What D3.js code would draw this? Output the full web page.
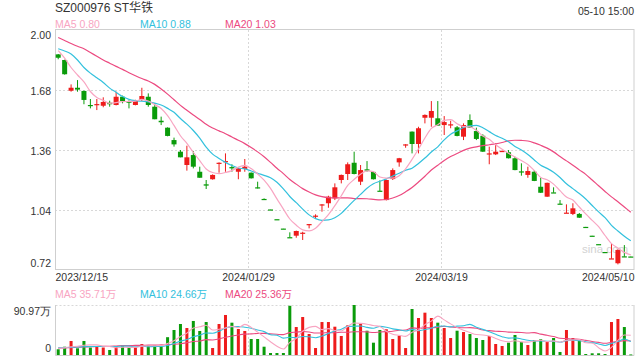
<!DOCTYPE html>
<html><head><meta charset="utf-8">
<script src="https://cdn.jsdelivr.net/npm/d3@7"></script>
<style>
html,body{margin:0;padding:0;background:#fff;}
svg{display:block;font-family:"Liberation Sans",Arial,"Noto Sans CJK SC",sans-serif;}
</style></head><body>
<svg id="c" width="640" height="360"></svg>
<script>
const title = "SZ000976 ST华铁";
const timeLabel = "05-10 15:00";
const xTickIndex = [0, 30, 60, 90];
const xTickLabels = ["2023/12/15", "2024/01/29", "2024/03/19", "2024/05/10"];
const priceTicks = [2.00, 1.68, 1.36, 1.04, 0.72];
const volTicks = [0, 90.97];
const volTickLabels = ["0", "90.97万"];
const priceLegend = ["MA5 0.80", "MA10 0.88", "MA20 1.03"];
const volLegend = ["MA5 35.71万", "MA10 24.66万", "MA20 25.36万"];

const open = [1.870,1.840,1.676,1.692,1.675,1.600,1.600,1.596,1.612,1.600,
1.644,1.621,1.600,1.627,1.644,1.591,1.516,1.479,1.413,1.351,
1.280,1.333,1.244,1.177,1.204,1.287,1.296,1.269,1.244,1.259,
1.239,1.161,1.099,1.043,0.991,0.941,0.895,0.903,0.914,0.963,
1.005,1.066,1.076,1.102,1.200,1.232,1.292,1.191,1.257,1.243,
1.143,1.093,1.205,1.294,1.386,1.458,1.392,1.532,1.532,1.529,
1.493,1.493,1.481,1.431,1.520,1.461,1.436,1.337,1.337,1.353,
1.348,1.316,1.246,1.227,1.244,1.164,1.111,1.134,1.074,1.024,
1.019,1.019,0.950,0.903,0.858,0.816,0.780,0.756,0.793,0.792];
const high = [1.872,1.842,1.710,1.733,1.677,1.632,1.632,1.641,1.623,1.671,
1.650,1.625,1.628,1.692,1.662,1.609,1.538,1.481,1.426,1.360,
1.383,1.355,1.271,1.200,1.230,1.294,1.342,1.284,1.264,1.312,
1.240,1.191,1.102,1.043,0.991,0.941,0.921,0.930,0.924,0.965,
1.017,1.071,1.116,1.182,1.229,1.294,1.351,1.280,1.301,1.245,
1.198,1.202,1.262,1.318,1.391,1.459,1.484,1.550,1.621,1.621,
1.541,1.516,1.488,1.502,1.550,1.479,1.444,1.378,1.396,1.358,
1.360,1.324,1.289,1.271,1.253,1.212,1.186,1.161,1.093,1.070,
1.076,1.024,0.950,0.903,0.858,0.816,0.862,0.830,0.853,0.792];
const low = [1.844,1.762,1.671,1.671,1.604,1.582,1.573,1.588,1.591,1.598,
1.609,1.582,1.598,1.621,1.591,1.524,1.493,1.433,1.378,1.321,
1.250,1.262,1.212,1.152,1.202,1.239,1.244,1.244,1.204,1.244,
1.208,1.155,1.097,1.042,0.990,0.940,0.893,0.892,0.880,0.942,
0.996,1.031,1.052,1.093,1.182,1.200,1.230,1.173,1.244,1.203,
1.141,1.091,1.200,1.271,1.372,1.342,1.342,1.502,1.484,1.488,
1.440,1.476,1.433,1.413,1.478,1.413,1.350,1.284,1.333,1.352,
1.315,1.252,1.223,1.212,1.194,1.131,1.110,1.132,1.072,1.024,
1.013,0.998,0.949,0.902,0.857,0.815,0.780,0.750,0.791,0.790];
const close = [1.852,1.764,1.692,1.682,1.627,1.595,1.605,1.616,1.604,1.644,
1.621,1.612,1.625,1.648,1.600,1.524,1.508,1.435,1.390,1.321,
1.321,1.271,1.212,1.170,1.227,1.292,1.301,1.262,1.262,1.271,
1.209,1.156,1.097,1.042,0.990,0.940,0.893,0.928,0.919,0.965,
1.010,1.070,1.111,1.161,1.227,1.284,1.232,1.253,1.250,1.204,
1.141,1.200,1.253,1.316,1.390,1.392,1.476,1.547,1.568,1.490,
1.509,1.497,1.435,1.493,1.479,1.419,1.351,1.342,1.351,1.355,
1.316,1.253,1.244,1.248,1.195,1.132,1.185,1.132,1.072,1.026,
1.049,0.999,0.949,0.902,0.857,0.815,0.782,0.827,0.791,0.791];
const volume = [10.4,15.1,25.5,12.2,25.5,13.6,15.1,13.6,9.1,15.1,
17.6,14.0,14.0,20.0,18.2,18.2,15.5,32.4,45.5,56.4,
49.1,61.9,43.7,60.0,12.7,56.4,72.8,58.8,47.3,43.7,
29.1,29.1,15.1,3.6,3.6,3.6,89.5,50.9,69.1,38.2,
12.7,60.0,60.0,51.5,34.6,54.0,90.97,56.4,44.2,22.4,
45.5,46.8,29.1,35.1,12.7,83.7,67.3,77.0,67.3,58.8,
49.1,30.9,44.2,41.8,38.2,30.9,27.3,34.6,20.0,16.4,
22.4,36.4,23.7,18.2,27.3,28.6,23.7,30.9,5.5,45.5,
30.9,27.3,1.8,3.1,3.1,1.8,60.0,65.5,50.9,1.0];
const ma5 = [1.890,1.850,1.800,1.760,1.723,1.672,1.640,1.625,1.609,1.613,
1.618,1.619,1.621,1.630,1.621,1.602,1.581,1.543,1.491,1.436,
1.395,1.348,1.303,1.259,1.240,1.234,1.240,1.250,1.269,1.278,
1.261,1.232,1.199,1.155,1.099,1.045,0.992,0.959,0.934,0.929,
0.943,0.978,1.015,1.063,1.116,1.171,1.203,1.231,1.249,1.245,
1.216,1.210,1.210,1.223,1.260,1.310,1.365,1.424,1.475,1.495,
1.518,1.522,1.500,1.485,1.483,1.465,1.435,1.417,1.388,1.364,
1.343,1.323,1.304,1.283,1.251,1.214,1.201,1.178,1.143,1.109,
1.093,1.056,1.019,0.985,0.951,0.904,0.861,0.837,0.814,0.801];
const ma10 = [1.900,1.888,1.872,1.840,1.800,1.770,1.745,1.720,1.690,1.668,
1.645,1.630,1.623,1.620,1.617,1.610,1.600,1.582,1.561,1.528,
1.498,1.464,1.423,1.375,1.338,1.315,1.294,1.277,1.264,1.259,
1.248,1.236,1.225,1.212,1.188,1.153,1.112,1.079,1.045,1.014,
0.994,0.985,0.987,0.999,1.022,1.057,1.091,1.123,1.156,1.180,
1.193,1.206,1.221,1.236,1.252,1.263,1.288,1.317,1.349,1.377,
1.414,1.444,1.462,1.480,1.489,1.491,1.479,1.458,1.437,1.423,
1.404,1.379,1.360,1.336,1.307,1.279,1.262,1.241,1.213,1.180,
1.154,1.128,1.099,1.064,1.030,0.999,0.958,0.928,0.900,0.876];
const ma20 = [1.960,1.944,1.928,1.913,1.900,1.880,1.860,1.840,1.823,1.806,
1.790,1.772,1.756,1.741,1.728,1.710,1.685,1.658,1.628,1.598,
1.572,1.547,1.523,1.497,1.477,1.462,1.447,1.429,1.412,1.394,
1.373,1.350,1.324,1.294,1.263,1.234,1.203,1.178,1.154,1.136,
1.121,1.111,1.106,1.105,1.105,1.105,1.101,1.101,1.100,1.097,
1.094,1.096,1.104,1.117,1.137,1.160,1.189,1.220,1.253,1.279,
1.304,1.325,1.341,1.358,1.370,1.377,1.383,1.388,1.393,1.400,
1.409,1.412,1.411,1.408,1.398,1.385,1.370,1.350,1.325,1.302,
1.279,1.254,1.230,1.200,1.169,1.139,1.110,1.084,1.056,1.028];
const vma5 = [12,13,15,16,17.7,18.4,18.4,16.0,15.4,13.3,
14.1,13.9,14.0,16.1,16.8,16.9,17.2,20.9,26.0,33.6,
39.8,49.1,51.3,54.2,45.5,46.9,49.1,52.1,49.6,55.8,
50.3,41.6,32.9,24.1,16.1,11.0,23.1,30.2,43.3,50.3,
52.1,46.2,48.0,44.5,43.8,52.0,58.2,57.5,56.0,53.6,
51.9,43.1,37.6,35.8,33.8,41.5,45.6,55.2,61.6,70.8,
63.9,56.6,50.1,45.0,40.8,37.2,36.5,34.6,30.2,25.8,
24.1,26.0,23.8,23.4,25.6,26.8,24.3,25.7,23.2,26.8,
27.3,28.0,22.2,21.7,13.2,7.4,14.0,26.7,36.3,35.8];
const vma10 = [13,13.5,14,14.5,15,15.5,15.5,15.5,15.5,15.5,
16.2,16.1,15.0,15.8,15.0,15.5,15.5,17.4,21.1,25.2,
28.3,33.1,36.1,40.1,39.5,43.4,49.1,51.7,51.9,50.6,
48.6,45.4,42.5,36.9,36.0,30.7,32.3,31.6,33.7,33.2,
31.5,34.6,39.1,43.9,47.0,52.1,52.2,52.8,50.3,48.7,
52.0,50.6,47.6,45.9,43.7,46.7,44.3,46.4,48.7,52.3,
52.7,51.1,52.6,53.3,55.8,50.6,46.6,42.3,37.6,33.3,
30.7,31.2,29.2,26.8,25.7,25.5,25.1,24.8,23.3,26.2,
27.1,26.2,24.0,22.5,20.0,17.4,21.0,24.5,29.0,24.5];
const vma20 = [12.5,13,13.5,14,14.5,15,15.5,16,16,16.5,
17,17,17.5,17.5,18,18,18.5,19,19.5,20.4,
22.3,24.6,25.5,27.9,27.3,29.4,32.3,34.6,36.5,37.9,
38.5,39.2,39.3,38.5,37.7,37.0,40.7,41.6,42.8,41.9,
40.1,40.0,40.8,40.4,41.5,41.4,42.3,42.2,42.0,40.9,
41.8,42.6,43.3,44.9,45.4,49.4,48.3,49.6,49.5,50.5,
52.3,50.9,50.1,49.6,49.8,48.6,45.4,44.3,43.1,42.8,
41.7,41.2,40.9,40.0,40.8,38.0,35.8,33.5,30.4,29.8,
28.9,28.7,26.6,24.6,22.9,21.4,23.1,24.6,26.2,25.4];
const categories = close.map((_, i) => i);

const UP = "#ee1b1b", DOWN = "#0a9b0a";
const C5 = "#f8a5c2", C10 = "#33c1dd", C20 = "#ec4a80";
const TXT = "#333", FRAME = "#cfcfcf", GRID = "#d8d8d8";

const svg = d3.select("#c");
const L = 55, R = 634, T = 30, B = 270, VT = 305, VB = 355;
const x = d3.scaleLinear().domain([0, categories.length]).range([L, R]);
const cx = i => x(i + 0.5);
const y = d3.scaleLinear().domain([0.72, 2.00]).range([B, T]);
const yv = d3.scaleLinear().domain([0, 90.97]).range([VB, VT]);

// header
svg.append("text").attr("x", L).attr("y", 12).attr("font-size", 12).attr("fill", TXT).text(title);
svg.append("text").attr("x", R).attr("y", 14.5).attr("text-anchor", "end").attr("font-size", 10.5).attr("fill", TXT).text(timeLabel);
const legColors = [C5, C10, C20];
priceLegend.forEach((t, k) => svg.append("text").attr("x", L + 85 * k).attr("y", 27.5).attr("font-size", 10.5).attr("fill", legColors[k]).text(t));
volLegend.forEach((t, k) => svg.append("text").attr("x", L + 85 * k).attr("y", 298).attr("font-size", 10.5).attr("fill", legColors[k]).text(t));

// grid
const g = svg.append("g");
[1.68, 1.36, 1.04].forEach(v => g.append("line").attr("x1", L).attr("x2", R).attr("y1", Math.round(y(v)) + 0.5).attr("y2", Math.round(y(v)) + 0.5)
  .attr("stroke", GRID).attr("stroke-dasharray", "2,2"));
[30, 60].forEach(i => {
  const xx = Math.round(x(i)) + 0.5;
  g.append("line").attr("x1", xx).attr("x2", xx).attr("y1", T).attr("y2", B).attr("stroke", GRID).attr("stroke-dasharray", "2,2");
  g.append("line").attr("x1", xx).attr("x2", xx).attr("y1", VT).attr("y2", VB).attr("stroke", GRID).attr("stroke-dasharray", "2,2");
});
// frames
g.append("rect").attr("x", L + 0.5).attr("y", T - 0.5).attr("width", R - L - 0.5).attr("height", B - T).attr("fill", "none").attr("stroke", FRAME);
g.append("line").attr("x1", L + 0.5).attr("x2", R).attr("y1", VT + 0.5).attr("y2", VT + 0.5).attr("stroke", GRID).attr("stroke-dasharray", "2,2");
g.append("path").attr("d", `M${L + 0.5},${VT}V${VB + 0.5}H${R}V${VT}`).attr("fill", "none").attr("stroke", FRAME);

// watermark
svg.append("text").attr("x", 582).attr("y", 253).attr("font-size", 11.5).attr("fill", "#c4c4c4").attr("opacity", 0.75).text("sina.com");

// axes
const ay = svg.append("g").attr("transform", `translate(${L},0)`)
  .call(d3.axisLeft(y).tickValues(priceTicks).tickSize(0).tickPadding(4).tickFormat(d3.format(".2f")));
ay.select(".domain").remove();
ay.selectAll("text").attr("font-size", 10.5).attr("fill", TXT).attr("font-family", null)
  .attr("dy", d => d === 2.00 ? "0.85em" : d === 0.72 ? "-0.3em" : "0.4em");

const ax = svg.append("g").attr("transform", `translate(0,${B})`)
  .call(d3.axisBottom(x).tickValues(xTickIndex).tickSize(0).tickPadding(4).tickFormat((d, i) => xTickLabels[i]));
ax.select(".domain").remove();
ax.selectAll("text").attr("font-size", 10.5).attr("fill", TXT).attr("font-family", null)
  .attr("text-anchor", (d, i) => i === 0 ? "start" : i === xTickIndex.length - 1 ? "end" : "middle");

const av = svg.append("g").attr("transform", `translate(${L},0)`)
  .call(d3.axisLeft(yv).tickValues(volTicks).tickSize(0).tickPadding(4).tickFormat((d, i) => volTickLabels[i]));
av.select(".domain").remove();
av.selectAll("text").attr("font-size", 10.5).attr("fill", TXT).attr("font-family", null)
  .attr("dy", d => d === 0 ? "-0.3em" : "0.95em");

// candles
const isUp = i => close[i] >= open[i];
const cg = svg.append("g");
const cand = cg.selectAll("g").data(categories).join("g");
cand.append("line")
  .attr("x1", i => cx(i)).attr("x2", i => cx(i))
  .attr("y1", i => y(high[i])).attr("y2", i => y(low[i]))
  .attr("stroke", i => isUp(i) ? UP : DOWN).attr("stroke-width", 1);
cand.append("rect")
  .attr("x", i => cx(i) - 2.5).attr("width", 5)
  .attr("y", i => y(Math.max(open[i], close[i])))
  .attr("height", i => Math.max(1.2, Math.abs(y(open[i]) - y(close[i]))))
  .attr("fill", i => isUp(i) ? UP : DOWN);

// MA lines
const line = d3.line().x((d, i) => cx(i)).y(d => y(d)).curve(d3.curveMonotoneX);
[[ma20, C20], [ma10, C10], [ma5, C5]].forEach(([arr, col]) =>
  svg.append("path").attr("d", line(arr)).attr("fill", "none").attr("stroke", col).attr("stroke-width", 1.2));

// volume
svg.append("g").selectAll("rect").data(categories).join("rect")
  .attr("x", i => cx(i) - 1.5).attr("width", 3)
  .attr("y", i => yv(volume[i])).attr("height", i => Math.max(0.8, VB - yv(volume[i])))
  .attr("fill", i => isUp(i) ? UP : DOWN);
const vline = d3.line().x((d, i) => cx(i)).y(d => yv(d)).curve(d3.curveMonotoneX);
[[vma20, C20], [vma10, C10], [vma5, C5]].forEach(([arr, col]) =>
  svg.append("path").attr("d", vline(arr)).attr("fill", "none").attr("stroke", col).attr("stroke-width", 1.1));
</script>
</body></html>
